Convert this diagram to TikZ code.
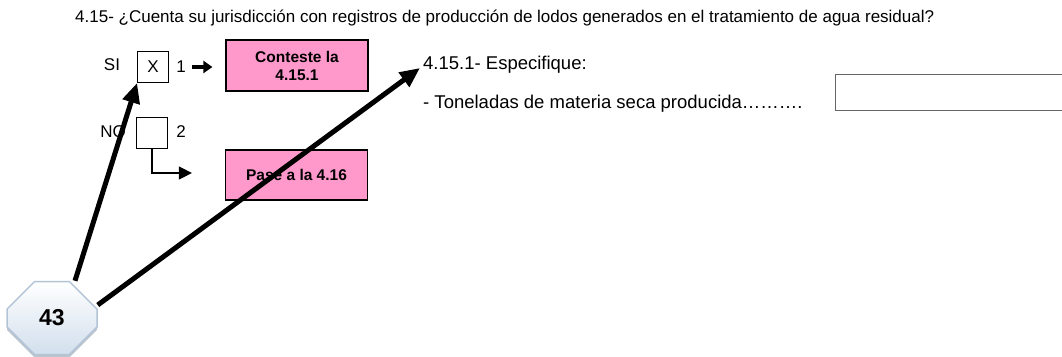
\documentclass[tikz,border=0pt]{standalone}
\usepackage{fontspec}
\setmainfont{Liberation Sans}
\usetikzlibrary{arrows.meta,shapes.misc,shadows}
\definecolor{pinkbox}{RGB}{255,153,204}
\definecolor{octoline}{RGB}{178,196,214}
\definecolor{octofill}{RGB}{210,223,237}
\begin{document}
\begin{tikzpicture}[x=1pt,y=-1pt,font=\fontsize{17}{20}\selectfont]
    \useasboundingbox (0,0) rectangle (1062,356);
    \node[anchor=west,inner sep=0] (title) at (75,18) {4.15- ¿Cuenta su jurisdicción con registros de producción de lodos generados en el tratamiento de agua residual?};

    \begin{scope}[every node/.style={inner sep=0}]
        \node (si) at (112,65) {SI};
        \node (no) at (113,132) {NO};
        \node (one) at (181,67) {1};
        \node (two) at (181,132) {2};
    \end{scope}

    \begin{scope}[every node/.style={inner sep=0,anchor=west,font=\fontsize{18.5}{22}\selectfont}]
        \node (spec) at (423,65) {4.15.1- Especifique:};
        \node (tons) at (423,104) {- Toneladas de materia seca producida……….};
    \end{scope}

    \begin{scope}[every node/.style={draw,thick,minimum size=31pt,inner sep=0}]
        \node (yes) at (153,67) {X};
        \node (none) at (152,133) {};
    \end{scope}

    \begin{scope}[every node/.style={draw,line width=1.2pt,fill=pinkbox,align=center,minimum width=142pt,font=\fontsize{15.5}{18}\selectfont\bfseries}]
        \node[minimum height=51pt] (answer) at (297,65.5) {Conteste la\\4.15.1};
        \node[minimum height=50pt] (skip) at (296.5,175) {Pase a la 4.16};
    \end{scope}

    \node[draw=black!60,line width=1pt,minimum width=235pt,minimum height=36pt,anchor=north west] (blank) at (835,74) {};

    \node[chamfered rectangle,chamfered rectangle xsep=18pt,chamfered rectangle ysep=18pt,
          minimum width=90pt,minimum height=73pt,draw=octoline,line width=1.5pt,
          top color=white,bottom color=octofill,
          drop shadow={shadow xshift=0pt,shadow yshift=-3pt,fill=octoline!80!black,opacity=0.6},
          font=\fontsize{23}{26}\selectfont\bfseries] (page) at (52,318) {43};

    \begin{scope}[>={Triangle[length=20pt,width=17pt]},line width=5pt]
        \draw[->] ([xshift=23pt]page.north) -- (yes.south west);
        \draw[->] ([yshift=13pt]page.east) -- ([xshift=-3pt,yshift=-3pt]spec.west);
    \end{scope}

    \draw[-{Triangle[length=9pt,width=12pt]},line width=4.5pt,shorten <=6pt,shorten >=13pt] (one.east) -- (one.east -| answer.west);
    \draw[-{Triangle[length=13pt,width=13pt]},line width=1.2pt,shorten >=33pt] (none.south) |- ([yshift=2pt]skip.west);
\end{tikzpicture}
\end{document}
